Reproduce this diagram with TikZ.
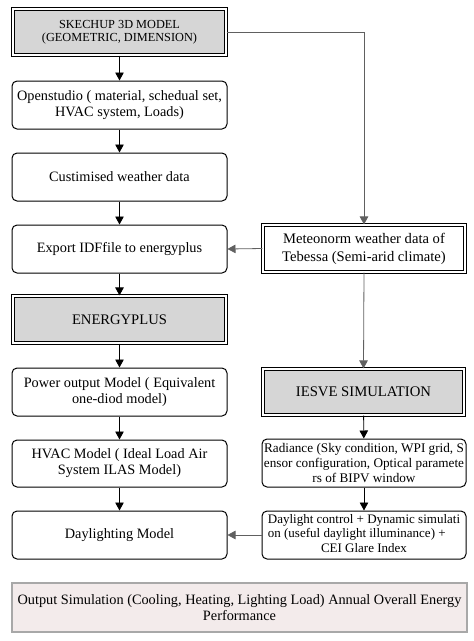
\documentclass[tikz,border=0pt]{standalone}
\usepackage{fontspec}
\setmainfont{Liberation Serif}
\usetikzlibrary{arrows.meta}
\definecolor{boxgray}{HTML}{D6D6D6}
\definecolor{outfill}{HTML}{F3EBEB}
\definecolor{outline}{HTML}{A8A8A8}
\definecolor{lnk}{HTML}{606060}
\tikzset{
  base/.style={minimum height=48pt, inner sep=0pt, align=center, font=\fontsize{14.3}{16}\selectfont},
  lbox/.style={base, draw, line width=1pt, rounded corners=5pt, minimum width=215pt},
  rbox/.style={base, draw, line width=1pt, rounded corners=5pt, minimum width=204pt},
  dbox/.style={base, draw, line width=1.1pt, double=white, double distance=1.6pt, fill=boxgray},
  wbox/.style={base, draw, line width=1.1pt, double=white, double distance=1.6pt, fill=white},
  arr/.style={line width=0.9pt, -{Triangle[length=8pt,width=8.5pt]}},
  garr/.style={draw=lnk, line width=0.8pt, -{Triangle[length=8pt,width=8.5pt]}},
}
\begin{document}
\begin{tikzpicture}[x=1pt,y=-1pt]
\useasboundingbox (0,0) rectangle (474,641);
\node[dbox, minimum width=213pt, minimum height=46pt, font=\fontsize{12.3}{13.5}\selectfont] (sk) at (119.5,32) {SKECHUP 3D MODEL\\(GEOMETRIC, DIMENSION)};
\node[lbox] (os) at (119.5,105) {Openstudio ( material, schedual set,\\HVAC system, Loads)};
\node[lbox] (cw) at (119.5,177) {Custimised weather data};
\node[lbox] (ex) at (119.5,249) {Export IDFfile to energyplus};
\node[dbox, minimum width=213pt, minimum height=47pt, font=\fontsize{14.6}{16}\selectfont] (ep) at (119.5,319.5) {ENERGYPLUS};
\node[lbox] (po) at (119.5,392) {Power output Model ( Equivalent\\one-diod model)};
\node[lbox, minimum height=47pt] (hv) at (119.5,463.5) {HVAC Model ( Ideal Load Air\\System ILAS Model)};
\node[lbox] (dm) at (119.5,535) {Daylighting Model};
\node[wbox, minimum width=202pt, minimum height=47pt, font=\fontsize{14.6}{18}\selectfont] (mt) at (364,248.5) {Meteonorm weather data of\\Tebessa (Semi-arid climate)};
\node[dbox, minimum width=201pt, minimum height=46pt, font=\fontsize{14.7}{16}\selectfont] (ie) at (363.5,392) {IESVE SIMULATION};
\node[rbox, font=\fontsize{13.2}{14.7}\selectfont] (ra) at (364,463) {Radiance (Sky condition, WPI grid, S\\ensor configuration, Optical paramete\\rs of BIPV window};
\node[rbox, font=\fontsize{13}{14.3}\selectfont] (dc) at (364,535) {\begin{tabular}{@{}l@{}}Daylight control + Dynamic simulati\\on (useful daylight illuminance) +\\\multicolumn{1}{@{}c@{}}{CEI Glare Index}\end{tabular}};
\node[draw=outline, line width=2.6pt, fill=outfill, minimum width=455pt, minimum height=49pt, inner sep=0pt, align=center, font=\fontsize{14.3}{16}\selectfont] (out) at (239.5,607.5) {Output Simulation (Cooling, Heating, Lighting Load) Annual Overall Energy\\Performance};
\draw[arr] (sk) -- (os);
\draw[arr] (os) -- (cw);
\draw[arr] (cw) -- (ex);
\draw[arr] (ex) -- (ep);
\draw[arr] (ep) -- (po);
\draw[arr] (po) -- (hv);
\draw[arr] (hv) -- (dm);
\draw[garr] (sk.east) -| (mt.north);
\draw[garr] (mt.west) -- (ex.east);
\draw[garr] (mt.south) -- (ie.north);
\draw[arr] (ie) -- (ra);
\draw[arr] (ra) -- (dc);
\draw[garr] (dc.west) -- (dm.east);
\end{tikzpicture}
\end{document}
